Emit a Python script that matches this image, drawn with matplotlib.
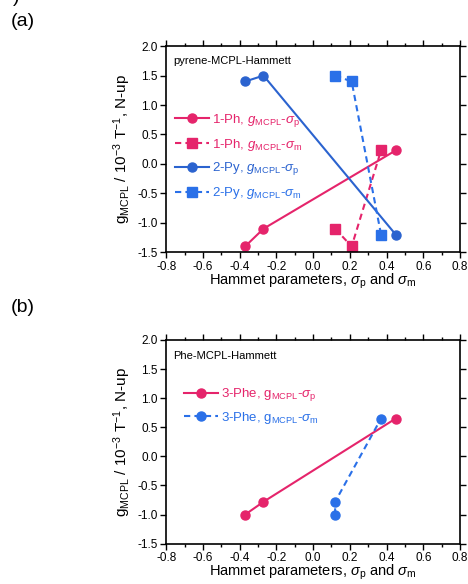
import matplotlib
matplotlib.use('Agg')
import matplotlib.pyplot as plt
from matplotlib.ticker import MultipleLocator

plt.rcParams['font.family'] = ['Liberation Sans', 'DejaVu Sans']
plt.rcParams['mathtext.fontset'] = 'custom'
plt.rcParams['mathtext.rm'] = 'Liberation Sans'
plt.rcParams['mathtext.it'] = 'Liberation Sans:italic'

PINK = '#e5246b'
BLUE = '#2b63cf'
BLUE2 = '#2a70e8'

# panel (a): pyrene
ph_p_x = [-0.37, -0.27, 0.45]
ph_p_y = [-1.40, -1.10, 0.23]
ph_m_x = [0.12, 0.21, 0.37]
ph_m_y = [-1.10, -1.40, 0.23]
py_p_x = [-0.37, -0.27, 0.45]
py_p_y = [1.40, 1.50, -1.20]
py_m_x = [0.12, 0.21, 0.37]
py_m_y = [1.50, 1.40, -1.20]

# panel (b): Phe
phe_p_x = [-0.37, -0.27, 0.45]
phe_p_y = [-1.00, -0.78, 0.65]
phe_m_x = [0.12, 0.12, 0.37]
phe_m_y = [-1.00, -0.78, 0.65]

xticks = [-0.8, -0.6, -0.4, -0.2, 0.0, 0.2, 0.4, 0.6, 0.8]
yticks = [-1.5, -1.0, -0.5, 0.0, 0.5, 1.0, 1.5, 2.0]

fig = plt.figure(figsize=(4.68, 5.84), dpi=100)
ax1 = fig.add_axes([0.355, 0.568, 0.628, 0.353])
ax2 = fig.add_axes([0.355, 0.069, 0.628, 0.349])

DASH = (0, (3, 2))

def style(ax):
    ax.set_xlim(-0.8, 0.8)
    ax.set_ylim(-1.5, 2.0)
    ax.set_xticks(xticks)
    ax.set_xticklabels(['%.1f' % v for v in xticks])
    ax.set_yticks(yticks)
    ax.set_yticklabels(['%.1f' % v for v in yticks])
    ax.xaxis.set_minor_locator(MultipleLocator(0.1))
    ax.tick_params(which='both', direction='out', top=True, right=True,
                   labelsize=8.5, width=1.0, pad=2)
    ax.tick_params(which='major', length=4)
    ax.tick_params(which='minor', length=2.5)
    ax.tick_params(axis='x', which='major', pad=2)
    for s in ax.spines.values():
        s.set_linewidth(1.2)
    ax.set_xlabel(r'Hammet parameters, $\sigma_{\mathrm{p}}$ and $\sigma_{\mathrm{m}}$',
                  fontsize=10.5, labelpad=-1)
    ax.set_ylabel(r'g$_{\mathrm{MCPL}}$ / 10$^{-3}$ T$^{-1}$, N-up', fontsize=11, labelpad=3)

ms = 6.5
ax1.plot(ph_p_x, ph_p_y, '-o', color=PINK, ms=ms, lw=1.5,
         label=r'1-Ph, $g_{\mathrm{MCPL}}$-$\sigma_{\mathrm{p}}$')
ax1.plot(ph_m_x, ph_m_y, 's', ls=DASH, color=PINK, ms=ms, lw=1.5,
         label=r'1-Ph, $g_{\mathrm{MCPL}}$-$\sigma_{\mathrm{m}}$')
ax1.plot(py_p_x, py_p_y, '-o', color=BLUE, ms=ms, lw=1.5,
         label=r'2-Py, $g_{\mathrm{MCPL}}$-$\sigma_{\mathrm{p}}$')
ax1.plot(py_m_x, py_m_y, 's', ls=DASH, color=BLUE2, ms=ms, lw=1.5,
         label=r'2-Py, $g_{\mathrm{MCPL}}$-$\sigma_{\mathrm{m}}$')
style(ax1)
leg1 = ax1.legend(loc='upper left', bbox_to_anchor=(-0.01, 0.74), frameon=False,
                  fontsize=9.5, handlelength=2.6, labelspacing=0.6, handletextpad=0.2)
for t, c in zip(leg1.get_texts(), [PINK, PINK, BLUE, BLUE2]):
    t.set_color(c)
ax1.text(0.025, 0.95, 'pyrene-MCPL-Hammett', transform=ax1.transAxes,
         fontsize=8, va='top', ha='left')

ax2.plot(phe_p_x, phe_p_y, '-o', color=PINK, ms=ms, lw=1.5,
         label=r'3-Phe, g$_{\mathrm{MCPL}}$-$\sigma_{\mathrm{p}}$')
ax2.plot(phe_m_x, phe_m_y, 'o', ls=DASH, color=BLUE2, ms=ms, lw=1.5,
         label=r'3-Phe, g$_{\mathrm{MCPL}}$-$\sigma_{\mathrm{m}}$')
style(ax2)
leg2 = ax2.legend(loc='upper left', bbox_to_anchor=(0.02, 0.83), frameon=False,
                  fontsize=9.5, handlelength=2.6, labelspacing=0.5, handletextpad=0.2)
for t, c in zip(leg2.get_texts(), [PINK, BLUE2]):
    t.set_color(c)
ax2.text(0.025, 0.945, 'Phe-MCPL-Hammett', transform=ax2.transAxes,
         fontsize=8, va='top', ha='left')

fig.text(0.022, 0.964, '(a)', fontsize=14, va='center', ha='left')
fig.text(0.022, 0.474, '(b)', fontsize=14, va='center', ha='left')
fig.text(0.027, 1.005, ')', fontsize=14, va='center', ha='left')

fig.savefig('out.png', dpi=100)
